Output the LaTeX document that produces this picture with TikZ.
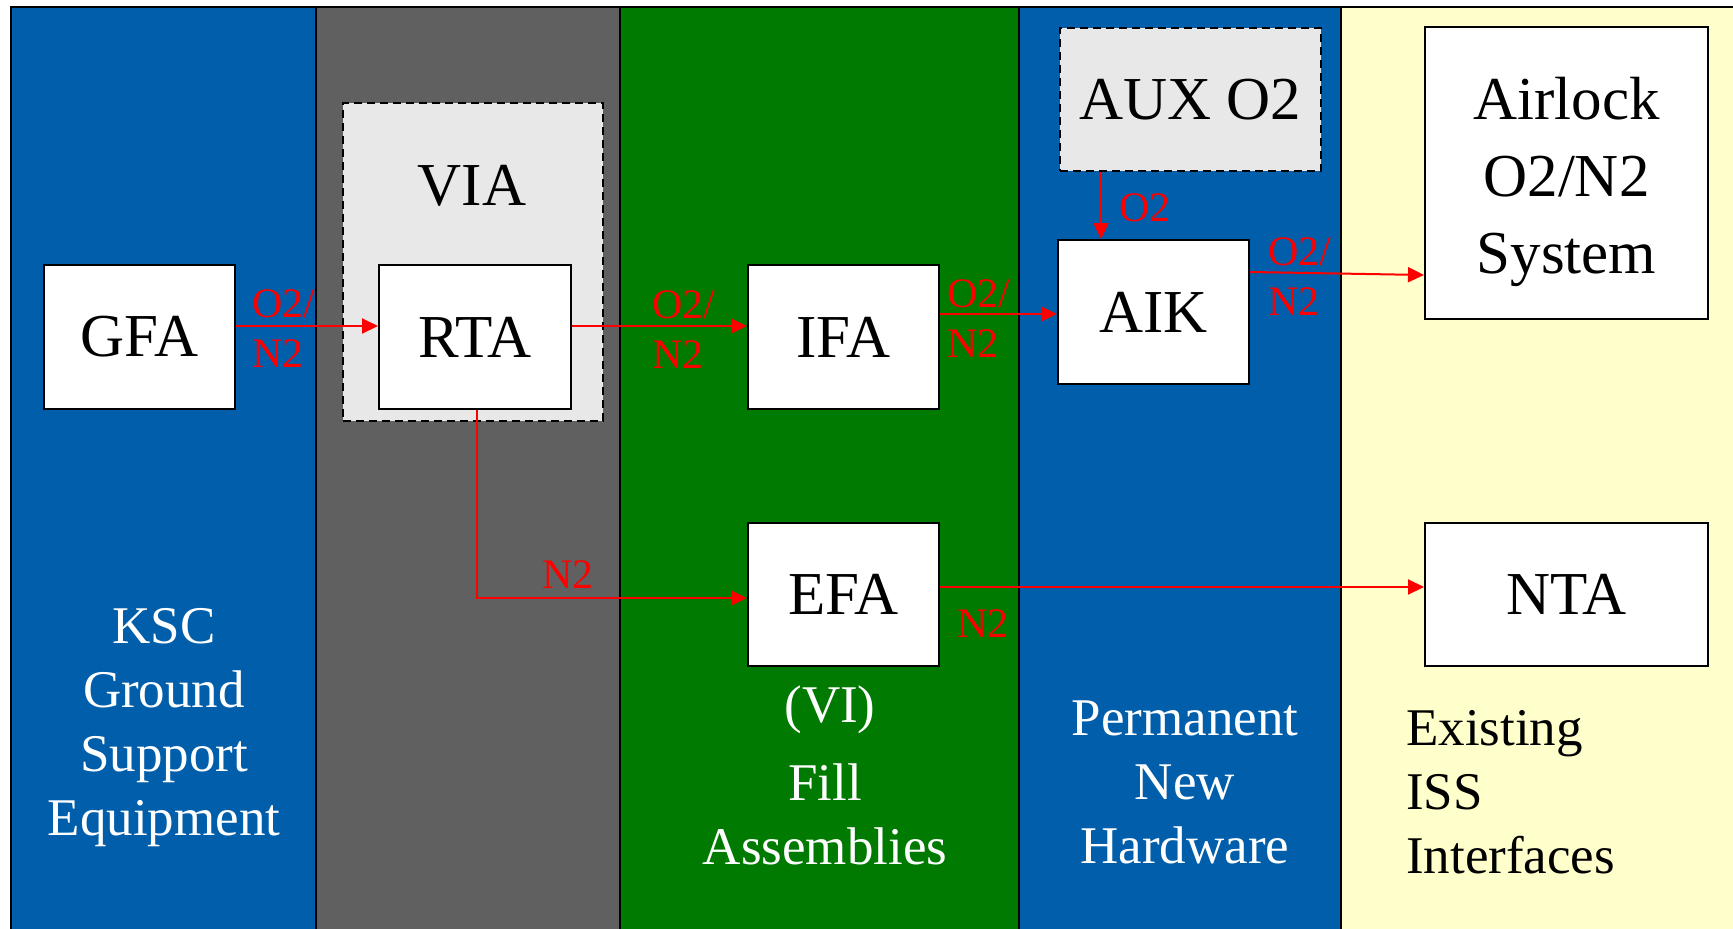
\documentclass[tikz,border=0pt]{standalone}
\usepackage{fontspec}
\setmainfont{Liberation Serif}
\usetikzlibrary{arrows.meta}
\definecolor{colblue}{RGB}{0,94,170}
\definecolor{colgray}{RGB}{96,96,96}
\definecolor{colgreen}{RGB}{0,122,0}
\definecolor{colyellow}{RGB}{255,255,204}
\definecolor{dashfill}{RGB}{232,232,232}
\tikzset{
  box/.style={draw=black, line width=2pt, fill=white, inner sep=0pt, font=\fontsize{61}{77}\selectfont, align=center},
  dbox/.style={draw=black, line width=1.5pt, dash pattern=on 8pt off 5pt, fill=dashfill, inner sep=0pt, font=\fontsize{61}{77}\selectfont},
  flow/.style={draw=red, line width=2pt, -{Triangle[length=16pt,width=15pt]}},
  flowlbl/.style={text=red, font=\fontsize{42}{50}\selectfont, inner sep=0pt, align=left, anchor=base west},
  collbl/.style={font=\fontsize{53}{64}\selectfont, inner sep=0pt, align=center, anchor=base},
  sep/.style={draw=black, line width=1.5pt}
}
\begin{document}
\begin{tikzpicture}[x=1pt,y=-1pt]
\useasboundingbox (0,0) rectangle (1733,929);
% columns
\fill[colblue] (11,7) rectangle (316,929);
\fill[colgray] (316,7) rectangle (620,929);
\fill[colgreen] (620,7) rectangle (1019,929);
\fill[colblue] (1019,7) rectangle (1341,929);
\fill[colyellow] (1341,7) rectangle (1733,929);
\draw[sep] (316,7) -- (316,929);
\draw[sep] (620,7) -- (620,929);
\draw[sep] (1019,7) -- (1019,929);
\draw[sep] (1341,7) -- (1341,929);
\draw[line width=2.5pt] (11,929) -- (11,7) -- (1733,7);

% dashed groups
\node[dbox, minimum width=260pt, minimum height=318pt] (via) at (473,262) {};
\node[font=\fontsize{61}{77}\selectfont, inner sep=0pt, anchor=base] (vialbl) at (472,205) {VIA};
\node[dbox, minimum width=261pt, minimum height=143pt] (aux) at (1190.5,99.5) {AUX O2};

% boxes
\node[box, minimum width=191pt, minimum height=144pt] (gfa) at (139.5,337) {GFA};
\node[box, minimum width=192pt, minimum height=144pt] (rta) at (475,337) {RTA};
\node[box, minimum width=191pt, minimum height=144pt] (ifa) at (843.5,337) {IFA};
\node[box, minimum width=191pt, minimum height=143pt] (efa) at (843.5,594.5) {EFA};
\node[box, minimum width=191pt, minimum height=144pt] (aik) at (1153.5,312) {AIK};
\node[box, minimum width=283pt, minimum height=292pt] (airlock) at (1566.5,173) {};
\node[font=\fontsize{61}{77}\selectfont, inner sep=0pt, align=center, anchor=base] (airlocktxt) at (1566.5,273) {Airlock\\O2/N2\\System};
\node[box, minimum width=283pt, minimum height=143pt] (nta) at (1566.5,594.5) {NTA};

% connectors
\draw[flow] (gfa.east |- 0,326) -- (rta.west |- 0,326);
\draw[flow] (rta.east |- 0,326) -- (ifa.west |- 0,326);
\draw[flow] (ifa.east |- 0,314) -- (aik.west |- 0,314);
\draw[flow] (aik.east |- 0,272) -- (airlock.west |- 0,275);
\draw[flow] (aux.south -| 1101,0) -- (aik.north -| 1101,0);
\draw[flow] (rta.south -| 477,0) |- (efa.west |- 0,598);
\draw[flow] (efa.east |- 0,587) -- (nta.west |- 0,587);

% connector labels (base = last line)
\node[flowlbl] (lblA) at (252,367) {O2/\\N2};
\node[flowlbl] (lblB) at (652,368) {O2/\\N2};
\node[flowlbl] (lblC) at (947,357) {O2/\\N2};
\node[flowlbl] (lblD) at (1268,315) {O2/\\N2};
\node[flowlbl] (lblE) at (1119,221) {O2};
\node[flowlbl] (lblF) at (542,588) {N2};
\node[flowlbl] (lblG) at (957,637) {N2};

% column labels (base = last line)
\node[collbl, text=white] (ksc) at (164,835) {KSC\\Ground\\Support\\Equipment};
\node[collbl, text=white] (vi) at (830,722) {(VI)};
\node[collbl, text=white] (fill) at (825,864) {Fill\\Assemblies};
\node[collbl, text=white] (perm) at (1185,863) {Permanent\\New\\Hardware};
\node[collbl, text=black, align=left, anchor=base west] (iss) at (1406,873) {Existing\\ISS\\Interfaces};
\end{tikzpicture}
\end{document}
